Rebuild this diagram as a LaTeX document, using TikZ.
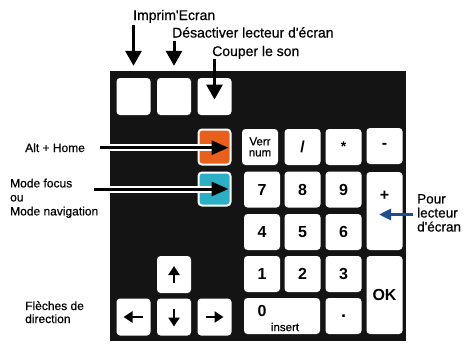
\documentclass[tikz,border=0pt]{standalone}
\usepackage{fontspec}
\setmainfont{Liberation Sans}
\newfontfamily\lblfont{Liberation Sans}[FakeBold=0.6]
\usetikzlibrary{arrows.meta,calc}
\definecolor{panel}{HTML}{141414}
\definecolor{orangek}{HTML}{E8601C}
\definecolor{cyank}{HTML}{2BAFC6}
\definecolor{bluearrow}{HTML}{1D4F8F}
\begin{document}
\begin{tikzpicture}[x=1pt,y=-1pt,
  key/.style={fill=white, rounded corners=3.5pt, minimum width=36pt, minimum height=36pt,
    inner sep=0pt, font=\fontsize{16}{18}\selectfont\bfseries},
  lkey/.style={key, minimum width=34pt, minimum height=37pt},
  tallkey/.style={key, minimum height=78pt},
  lbl/.style={inner sep=0pt, font=\lblfont\fontsize{12}{14}\selectfont, align=left},
  toplbl/.style={inner sep=0pt, font=\lblfont\fontsize{14}{16}\selectfont},
  keytxt/.style={inner sep=0pt},
  downarr/.style={line width=3pt, -{Triangle[width=16pt,length=15pt]}},
  sidearr/.style={line width=3pt, -{Triangle[width=14pt,length=17pt]}},
  whiteline/.style={white, line width=7pt},
  bluearr/.style={bluearrow, line width=3pt, -{Triangle[width=11pt,length=12pt]}},
  keyarr/.style={line width=2.8pt, -{Triangle[width=11pt,length=9pt]}}
]
\useasboundingbox (0,0) rectangle (466,343);
\fill[white] (0,0) rectangle (466,343);
% panel
\fill[panel] (110,71) rectangle (406,341);

% top keys
\node[lkey] (k1) at (133.5,96.5) {};
\node[lkey] (k2) at (174,96.5) {};
\node[lkey] (k3) at (214.5,96.5) {};

% coloured keys
\node[lkey, fill=orangek, draw=white, line width=2pt, minimum width=32pt, minimum height=35pt] (altk) at (214.5,147) {};
\node[lkey, fill=cyank, draw=white, line width=2pt, minimum width=32pt, minimum height=33pt] (modek) at (214.5,189) {};

% numpad
\node[key, font=\lblfont\fontsize{11.5}{11}\selectfont, align=center] (verr) at (260,147) {Verr\\num};
\node[key] (slash) at (302.5,147) {/};
\node[key] (star) at (343.5,147) {\fontsize{14}{14}\selectfont *};
\node[key] (minus) at (384.5,146) {-};
\node[key] (n7) at (262,189.5) {7};
\node[key] (n8) at (302.5,189.5) {8};
\node[key] (n9) at (343.5,189.5) {9};
\node[tallkey] (plus) at (384.5,211) {};
\node[keytxt, font=\fontsize{16}{18}\selectfont\bfseries] (plustxt) at (384.5,196) {+};
\node[key] (n4) at (262,232) {4};
\node[key] (n5) at (302.5,232) {5};
\node[key] (n6) at (343.5,232) {6};
\node[key] (n1) at (262,274) {1};
\node[key] (n2) at (302.5,274) {2};
\node[key] (n3) at (343.5,274) {3};
\node[tallkey] (okk) at (384.5,295) {OK};
\node[key, minimum width=76pt] (n0) at (282,316) {};
\node[keytxt, font=\fontsize{16}{18}\selectfont\bfseries] (zero) at (262,311) {0};
\node[keytxt, font=\lblfont\fontsize{11.5}{12}\selectfont] (ins) at (285,327) {insert};
\node[key] (dot) at (343.5,316) {\fontsize{18}{18}\selectfont .};

% arrow keys
\node[lkey] (up) at (174,274.5) {};
\node[lkey] (left) at (133.5,317) {};
\node[lkey] (down) at (174,317) {};
\node[lkey] (right) at (214.5,317) {};
\draw[keyarr] ($(up.center)+(0,8.5)$) -- ($(up.center)+(0,-8.5)$);
\draw[keyarr] ($(down.center)+(0,-8)$) -- ($(down.center)+(0,9.5)$);
\draw[keyarr] ($(left.center)+(9.5,0)$) -- ($(left.center)+(-10,0)$);
\draw[keyarr] ($(right.center)+(-8.5,0)$) -- ($(right.center)+(9,0)$);

% top labels and arrows
\node[toplbl, anchor=base west] (imp) at (133,20) {Imprim'Ecran};
\node[toplbl, anchor=base west] (des) at (172,37.5) {Désactiver lecteur d'écran};
\node[toplbl, anchor=base west] (cou) at (212,56) {Couper le son};
\draw[downarr] ($(k1.north |- imp.south)+(0,2)$) -- ($(k1.north)+(0,-12)$);
\draw[downarr] ($(k2.north |- des.south)+(0,3)$) -- ($(k2.north)+(0,-12)$);
\draw[downarr] ($(k3.north |- cou.south)+(0,0)$) -- ($(k3.center)+(0,3)$);

% left labels and arrows
\node[lbl, anchor=base west] (alth) at (25,152) {Alt + Home};
\draw[whiteline] ($(alth.east)+(15,0)$) -- ($(alth.east -| altk.east)+(-20,0)$);
\draw[sidearr] ($(alth.east)+(15,0)$) -- ($(alth.east -| altk.east)+(-3,0)$);

\node[lbl, anchor=north west] (mode) at (10,178.5) {Mode focus\\ou\\Mode navigation};
\draw[whiteline] ($(mode.east |- modek.center)+(-4,0)$) -- ($(modek.east)+(-20,0)$);
\draw[sidearr] ($(mode.east |- modek.center)+(-4,0)$) -- ($(modek.east)+(-3,0)$);

\node[lbl, font=\lblfont\fontsize{12}{13}\selectfont, anchor=north west] (fle) at (25,301) {Flèches de\\direction};

% right label and blue arrow
\node[lbl, font=\lblfont\fontsize{13.5}{14}\selectfont, anchor=north west] (pour) at (417,194) {Pour\\lecteur\\d'écran};
\coordinate (bt) at (379,214.5);
\draw[bluearr] ($(pour.west |- bt)+(-4,0)$) -- (bt);
\end{tikzpicture}
\end{document}
